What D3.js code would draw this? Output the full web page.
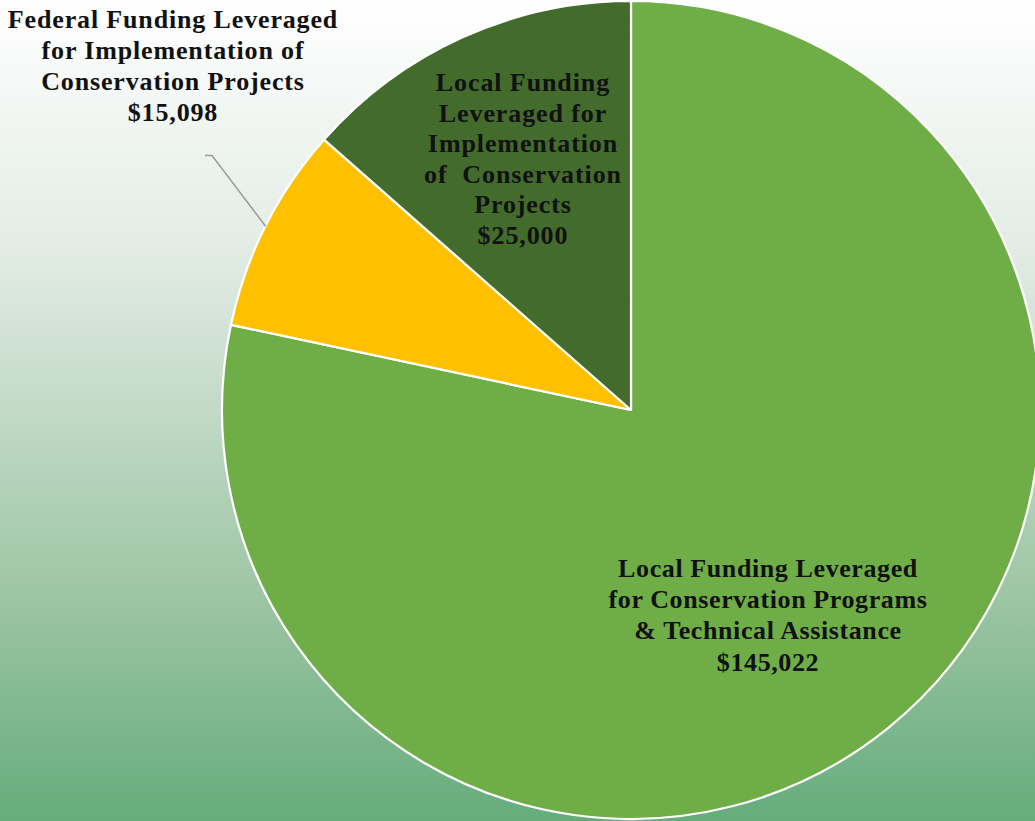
<!DOCTYPE html>
<html>
<head>
<meta charset="utf-8">
<script src="https://cdn.jsdelivr.net/npm/d3@7"></script>
<style>
  html, body { margin: 0; padding: 0; overflow: hidden; }
  svg { display: block; }
  text { font-family: "Liberation Serif", "DejaVu Serif", serif; font-weight: bold; fill: #111; }
</style>
</head>
<body>
<svg id="chart" width="1035" height="821"></svg>
<script>
// Funding sources, in clockwise order starting at 12 o'clock
const categories = [
  "Local Funding Leveraged for Conservation Programs & Technical Assistance",
  "Federal Funding Leveraged for Implementation of Conservation Projects",
  "Local Funding Leveraged for Implementation of Conservation Projects"
];
const amounts = [145022, 15098, 25000];
const labelLines = [
  ["Local Funding Leveraged", "for Conservation Programs", "& Technical Assistance"],
  ["Federal Funding Leveraged", "for Implementation of", "Conservation Projects"],
  ["Local Funding", "Leveraged for", "Implementation", "of  Conservation", "Projects"]
];
const sliceColors = ["#6fad46", "#ffc000", "#426b2c"];

const W = 1035, H = 821;
const cx = 631, cy = 410, R = 409;

const svg = d3.select("#chart");

// page background: white fading to green toward the bottom
const defs = svg.append("defs");
const grad = defs.append("linearGradient").attr("id", "bg")
  .attr("x1", 0).attr("y1", 0).attr("x2", 0).attr("y2", 1);
[[0, "#ffffff"], [0.3, "#e3ece5"], [0.73, "#9cc5a3"], [1, "#66ac7b"]]
  .forEach(([o, c]) => grad.append("stop").attr("offset", o).attr("stop-color", c));
svg.append("rect").attr("width", W).attr("height", H).attr("fill", "url(#bg)");

const fmt = d3.format("$,");
const data = amounts.map((v, i) => ({ name: categories[i], value: v, lines: labelLines[i], color: sliceColors[i] }));

const pie = d3.pie().value(d => d.value).sort(null);
const arcs = pie(data);
const arc = d3.arc().innerRadius(0).outerRadius(R);

const g = svg.append("g").attr("transform", `translate(${cx},${cy})`);
g.selectAll("path.slice").data(arcs).enter().append("path")
  .attr("class", "slice")
  .attr("d", arc)
  .attr("fill", d => d.data.color)
  .attr("stroke", "#ffffff")
  .attr("stroke-width", 2.2)
  .attr("stroke-linejoin", "round");

// label anchors (centre of the first line's baseline, page coordinates)
const labelPos = [
  { x: 768, y: 577, size: 26, gap: 31.2, ls: 0.6 },
  { x: 173, y: 28,  size: 26, gap: 31,   ls: 0.85 },
  { x: 523, y: 91,  size: 26, gap: 30.6, ls: 0.9 }
];

arcs.forEach((a, i) => {
  const p = labelPos[i];
  const t = svg.append("text")
    .attr("text-anchor", "middle")
    .style("font-size", p.size + "px")
    .style("letter-spacing", p.ls + "px");
  const lines = a.data.lines.concat([fmt(a.data.value)]);
  lines.forEach((ln, k) => {
    t.append("tspan").attr("x", p.x).attr("y", p.y + k * p.gap)
      .attr("xml:space", "preserve").text(ln);
  });
});

// leader line for the small federal slice
const fed = arcs[1];
const mid = (fed.startAngle + fed.endAngle) / 2;
const edge = [cx + Math.sin(mid) * R, cy - Math.cos(mid) * R];
svg.append("path")
  .attr("d", d3.line()([[205, 155.5], [212, 155.5], edge]))
  .attr("fill", "none")
  .attr("stroke", "#9a9a9a")
  .attr("stroke-width", 1.5);
</script>
</body>
</html>
